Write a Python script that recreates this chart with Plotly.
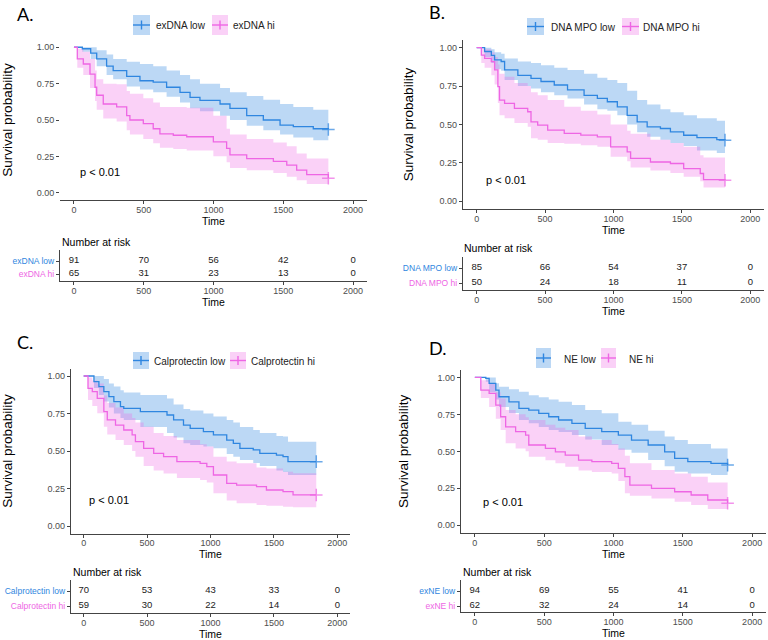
import plotly.graph_objects as go

W, H = 768, 640
SANS = "Liberation Sans, Arial, sans-serif"
BLUE, PINK = "#2F86E0", "#EE66E4"
BLUE_F, PINK_F = "rgba(46,134,224,0.32)", "rgba(238,102,228,0.30)"

# ---------------- data ----------------
time_ticks = [0, 500, 1000, 1500, 2000]
prob_ticks = [0, 0.25, 0.5, 0.75, 1.0]
prob_labels = ["0.00", "0.25", "0.50", "0.75", "1.00"]

# Panel A: exDNA
a_names = ["exDNA low", "exDNA hi"]
a_risk_labels = ["exDNA low", "exDNA hi"]
a_risk_low = [91, 70, 56, 42, 0]
a_risk_hi = [65, 31, 23, 13, 0]
a_low_t = [0, 60, 120, 163, 234, 281, 378, 473, 568, 664, 760, 832, 903, 1047, 1118, 1238, 1357, 1477, 1572, 1715, 1823]
a_low_s = [1.0, 0.99, 0.96, 0.92, 0.87, 0.84, 0.80, 0.77, 0.76, 0.725, 0.69, 0.655, 0.635, 0.61, 0.58, 0.53, 0.50, 0.465, 0.455, 0.44, 0.435]
a_low_hi = [1.0, 1.0, 1.0, 0.98, 0.95, 0.92, 0.90, 0.885, 0.87, 0.84, 0.81, 0.78, 0.75, 0.72, 0.69, 0.665, 0.64, 0.61, 0.59, 0.57, 0.555]
a_low_lo = [1.0, 0.97, 0.92, 0.87, 0.81, 0.78, 0.73, 0.71, 0.69, 0.66, 0.62, 0.58, 0.56, 0.53, 0.50, 0.46, 0.43, 0.40, 0.38, 0.36, 0.35]
a_hi_t = [0, 24, 67, 115, 151, 163, 210, 306, 378, 401, 497, 568, 616, 712, 808, 999, 1094, 1118, 1238, 1429, 1525, 1596, 1668, 1823]
a_hi_s = [1.0, 0.92, 0.885, 0.815, 0.725, 0.67, 0.61, 0.59, 0.53, 0.50, 0.475, 0.44, 0.405, 0.395, 0.385, 0.35, 0.305, 0.26, 0.235, 0.215, 0.19, 0.155, 0.125, 0.10]
a_hi_hi = [1.0, 0.99, 0.97, 0.92, 0.84, 0.78, 0.75, 0.745, 0.70, 0.68, 0.65, 0.62, 0.59, 0.59, 0.585, 0.53, 0.44, 0.40, 0.37, 0.345, 0.32, 0.27, 0.235, 0.21]
a_hi_lo = [1.0, 0.86, 0.81, 0.72, 0.63, 0.57, 0.51, 0.49, 0.43, 0.40, 0.37, 0.34, 0.31, 0.30, 0.29, 0.25, 0.21, 0.17, 0.155, 0.135, 0.11, 0.085, 0.06, 0.05]

# Panel B: DNA MPO
b_names = ["DNA MPO low", "DNA MPO hi"]
b_risk_labels = ["DNA MPO low", "DNA MPO hi"]
b_risk_low = [85, 66, 54, 37, 0]
b_risk_hi = [50, 24, 18, 11, 0]
b_low_t = [0, 58, 107, 131, 179, 204, 301, 397, 470, 567, 664, 785, 882, 955, 1028, 1100, 1173, 1246, 1343, 1416, 1513, 1610, 1755, 1815]
b_low_s = [1.0, 0.975, 0.95, 0.92, 0.91, 0.855, 0.82, 0.80, 0.78, 0.757, 0.725, 0.69, 0.67, 0.648, 0.615, 0.56, 0.517, 0.485, 0.474, 0.452, 0.43, 0.415, 0.402, 0.398]
b_low_hi = [1.0, 1.0, 0.99, 0.97, 0.96, 0.93, 0.91, 0.90, 0.885, 0.87, 0.855, 0.83, 0.805, 0.79, 0.77, 0.72, 0.66, 0.63, 0.60, 0.58, 0.56, 0.54, 0.525, 0.517]
b_low_lo = [1.0, 0.94, 0.90, 0.86, 0.85, 0.79, 0.75, 0.735, 0.71, 0.69, 0.67, 0.63, 0.60, 0.59, 0.56, 0.50, 0.45, 0.42, 0.40, 0.38, 0.36, 0.33, 0.315, 0.31]
b_hi_t = [0, 34, 58, 107, 131, 155, 167, 204, 276, 373, 397, 446, 519, 640, 761, 882, 979, 1100, 1125, 1270, 1416, 1513, 1634, 1658, 1815]
b_hi_s = [1.0, 0.952, 0.93, 0.909, 0.855, 0.746, 0.659, 0.637, 0.605, 0.583, 0.517, 0.496, 0.463, 0.442, 0.431, 0.42, 0.354, 0.322, 0.279, 0.256, 0.246, 0.213, 0.181, 0.141, 0.137]
b_hi_hi = [1.0, 1.0, 0.99, 0.97, 0.94, 0.89, 0.83, 0.81, 0.77, 0.75, 0.71, 0.69, 0.66, 0.615, 0.59, 0.565, 0.50, 0.46, 0.44, 0.40, 0.38, 0.355, 0.30, 0.285, 0.28]
b_hi_lo = [1.0, 0.90, 0.87, 0.82, 0.76, 0.64, 0.56, 0.54, 0.51, 0.485, 0.41, 0.40, 0.38, 0.375, 0.365, 0.355, 0.29, 0.26, 0.22, 0.20, 0.185, 0.16, 0.13, 0.09, 0.085]

# Panel C: Calprotectin
c_names = ["Calprotectin low", "Calprotectin hi"]
c_risk_labels = ["Calprotectin low", "Calprotectin hi"]
c_risk_low = [70, 53, 43, 33, 0]
c_risk_hi = [59, 30, 22, 14, 0]
c_low_t = [0, 50, 81, 120, 159, 199, 238, 290, 316, 447, 657, 709, 787, 840, 944, 1023, 1128, 1180, 1232, 1337, 1389, 1520, 1572, 1611, 1834]
c_low_s = [1.0, 1.0, 0.962, 0.929, 0.896, 0.862, 0.829, 0.796, 0.784, 0.762, 0.74, 0.707, 0.673, 0.651, 0.629, 0.607, 0.573, 0.551, 0.518, 0.507, 0.484, 0.473, 0.462, 0.429, 0.429]
c_low_hi = [1.0, 1.0, 1.0, 1.0, 0.98, 0.95, 0.93, 0.905, 0.89, 0.873, 0.85, 0.81, 0.78, 0.77, 0.75, 0.73, 0.707, 0.69, 0.66, 0.64, 0.62, 0.60, 0.596, 0.562, 0.562]
c_low_lo = [1.0, 1.0, 0.92, 0.873, 0.83, 0.79, 0.75, 0.72, 0.707, 0.66, 0.62, 0.59, 0.551, 0.54, 0.53, 0.518, 0.48, 0.462, 0.44, 0.42, 0.40, 0.37, 0.36, 0.34, 0.34]
c_hi_t = [0, 34, 68, 107, 159, 186, 251, 316, 382, 408, 473, 552, 630, 735, 918, 971, 1023, 1128, 1206, 1363, 1441, 1572, 1651, 1834]
c_hi_s = [1.0, 0.918, 0.896, 0.851, 0.762, 0.707, 0.673, 0.64, 0.607, 0.562, 0.518, 0.484, 0.462, 0.429, 0.418, 0.396, 0.34, 0.284, 0.273, 0.262, 0.24, 0.229, 0.207, 0.207]
c_hi_hi = [1.0, 0.99, 0.97, 0.95, 0.87, 0.82, 0.79, 0.75, 0.72, 0.69, 0.662, 0.62, 0.60, 0.573, 0.545, 0.53, 0.462, 0.43, 0.418, 0.39, 0.384, 0.362, 0.351, 0.351]
c_hi_lo = [1.0, 0.84, 0.80, 0.751, 0.662, 0.61, 0.573, 0.54, 0.50, 0.462, 0.40, 0.37, 0.35, 0.32, 0.307, 0.29, 0.218, 0.17, 0.151, 0.14, 0.135, 0.129, 0.125, 0.125]

# Panel D: NE
d_names = ["NE low", "NE hi"]
d_risk_labels = ["exNE low", "exNE hi"]
d_risk_low = [94, 69, 55, 41, 0]
d_risk_hi = [62, 32, 24, 14, 0]
d_low_t = [0, 79, 103, 151, 174, 246, 318, 389, 461, 533, 604, 700, 796, 915, 1035, 1130, 1250, 1369, 1441, 1536, 1703, 1823]
d_low_s = [1.0, 0.993, 0.959, 0.914, 0.869, 0.835, 0.79, 0.779, 0.757, 0.734, 0.712, 0.689, 0.655, 0.633, 0.61, 0.576, 0.543, 0.497, 0.452, 0.43, 0.419, 0.407]
d_low_hi = [1.0, 1.0, 1.0, 0.96, 0.937, 0.92, 0.903, 0.88, 0.865, 0.85, 0.835, 0.813, 0.78, 0.757, 0.70, 0.68, 0.64, 0.60, 0.576, 0.55, 0.52, 0.52]
d_low_lo = [1.0, 0.97, 0.90, 0.85, 0.80, 0.76, 0.712, 0.69, 0.665, 0.645, 0.63, 0.61, 0.58, 0.543, 0.51, 0.49, 0.441, 0.40, 0.362, 0.35, 0.34, 0.318]
d_hi_t = [0, 43, 103, 151, 186, 222, 294, 366, 389, 509, 581, 652, 748, 844, 987, 1035, 1082, 1118, 1274, 1441, 1560, 1680, 1823]
d_hi_s = [1.0, 0.914, 0.892, 0.813, 0.734, 0.666, 0.633, 0.61, 0.543, 0.52, 0.497, 0.475, 0.441, 0.43, 0.419, 0.385, 0.329, 0.272, 0.25, 0.227, 0.205, 0.171, 0.149]
d_hi_hi = [1.0, 0.98, 0.96, 0.90, 0.858, 0.779, 0.75, 0.73, 0.712, 0.68, 0.66, 0.644, 0.60, 0.576, 0.55, 0.52, 0.47, 0.419, 0.374, 0.35, 0.329, 0.29, 0.272]
d_hi_lo = [1.0, 0.86, 0.80, 0.72, 0.644, 0.554, 0.52, 0.50, 0.464, 0.44, 0.42, 0.396, 0.37, 0.36, 0.351, 0.30, 0.216, 0.20, 0.182, 0.16, 0.137, 0.11, 0.092]

p_text = "p < 0.01"

panels = [
    dict(letter="A.", names=a_names, rlab=a_risk_labels, risk=[a_risk_low, a_risk_hi],
         curves=[(a_low_t, a_low_s, a_low_lo, a_low_hi), (a_hi_t, a_hi_s, a_hi_lo, a_hi_hi)]),
    dict(letter="B.", names=b_names, rlab=b_risk_labels, risk=[b_risk_low, b_risk_hi],
         curves=[(b_low_t, b_low_s, b_low_lo, b_low_hi), (b_hi_t, b_hi_s, b_hi_lo, b_hi_hi)]),
    dict(letter="C.", names=c_names, rlab=c_risk_labels, risk=[c_risk_low, c_risk_hi],
         curves=[(c_low_t, c_low_s, c_low_lo, c_low_hi), (c_hi_t, c_hi_s, c_hi_lo, c_hi_hi)]),
    dict(letter="D.", names=d_names, rlab=d_risk_labels, risk=[d_risk_low, d_risk_hi],
         curves=[(d_low_t, d_low_s, d_low_lo, d_low_hi), (d_hi_t, d_hi_s, d_hi_lo, d_hi_hi)]),
]

# ---------------- layout geometry (pixels) ----------------
# keys: (box x0, box x1, text start x)
geo = [
    dict(km=(60, 367, 40, 200), tab=(60, 367, 250, 281), rows=(261, 274), yline=False,
         letter_xy=(15, 14), nar=(60, 242), pval=(30, 0.14), ystand=22, leg_y=25,
         keys=[(133, 150, 156), (212, 228, 233)], box_y=(15, 35)),
    dict(km=(463, 764, 40, 209), tab=(463, 764, 257, 290), rows=(268, 283), yline=True,
         letter_xy=(427, 12), nar=(462, 248), pval=(51, 0.137), ystand=22, leg_y=27,
         keys=[(527, 544, 551), (622, 639, 643)], box_y=(18, 35)),
    dict(km=(71, 350, 368.5, 533.5), tab=(71, 350, 580, 613), rows=(591, 606), yline=True,
         letter_xy=(15, 342), nar=(71, 572), pval=(24, 0.173), ystand=33, leg_y=361,
         keys=[(133, 149, 154), (230, 246, 251)], box_y=(352, 369)),
    dict(km=(461, 766, 370, 532.7), tab=(461, 766, 580, 612), rows=(591, 606), yline=True,
         letter_xy=(427, 348), nar=(461, 572), pval=(43, 0.16), ystand=25, leg_y=359,
         keys=[(536, 551, 564), (601, 616, 629)], box_y=(348, 368)),
]


def dx(a, b):
    return [a / W, b / W]


def dy(top, bot):
    return [1 - bot / H, 1 - top / H]


fig = go.Figure()
layout = dict(width=W, height=H, margin=dict(l=0, r=0, t=0, b=0),
              paper_bgcolor="white", plot_bgcolor="white", showlegend=True)
annotations, shapes = [], []
AXC = "#444444"
TICKF = dict(family=SANS, size=9, color="#4D4D4D")
colors = [BLUE, PINK]
fills = [BLUE_F, PINK_F]

for i, (p, g) in enumerate(zip(panels, geo)):
    kx, ky = 2 * i + 1, 2 * i + 2
    kxs = "" if kx == 1 else str(kx)
    kys = str(ky)
    for j, (t, s, lo, hi) in enumerate(p["curves"]):
        fig.add_trace(go.Scatter(x=t, y=lo, mode="lines", line=dict(width=0, shape="hv"),
                                 xaxis="x" + kxs, yaxis="y" + kxs, showlegend=False, hoverinfo="skip"))
        fig.add_trace(go.Scatter(x=t, y=hi, mode="lines", line=dict(width=0, shape="hv"),
                                 fill="tonexty", fillcolor=fills[j],
                                 xaxis="x" + kxs, yaxis="y" + kxs, showlegend=False, hoverinfo="skip"))
    by0, by1 = g["box_y"]
    ymid = (by0 + by1) / 2
    for j, (t, s, lo, hi) in enumerate(p["curves"]):
        leg_idx = 2 * i + j + 1
        leg = "legend" if leg_idx == 1 else "legend%d" % leg_idx
        sizes = [0] * (len(t) - 1) + [9]
        fig.add_trace(go.Scatter(x=t, y=s, mode="lines+markers", name=p["names"][j],
                                 line=dict(color=colors[j], width=1.3, shape="hv"),
                                 marker=dict(symbol="cross-thin", size=sizes, color=colors[j],
                                             line=dict(width=1.5, color=colors[j])),
                                 xaxis="x" + kxs, yaxis="y" + kxs, showlegend=False))
        # legend entry (text via native legend, key drawn with shapes)
        fig.add_trace(go.Scatter(x=[None], y=[None], mode="markers", name=p["names"][j],
                                 marker=dict(size=1, color="rgba(0,0,0,0)"),
                                 xaxis="x" + kxs, yaxis="y" + kxs, legend=leg, hoverinfo="skip"))
        bx0, bx1, tx = g["keys"][j]
        layout[leg] = dict(orientation="h", x=(tx - 40) / W, xanchor="left", y=1 - g["leg_y"] / H,
                           yanchor="middle", bgcolor="rgba(0,0,0,0)", borderwidth=0,
                           font=dict(family=SANS, size=10, color="#222222"),
                           itemsizing="trace", itemwidth=30, itemclick=False, itemdoubleclick=False)
        shapes.append(dict(type="rect", xref="paper", yref="paper", x0=bx0 / W, x1=bx1 / W,
                           y0=1 - by1 / H, y1=1 - by0 / H, fillcolor=fills[j], line=dict(width=0),
                           layer="below"))
        shapes.append(dict(type="line", xref="paper", yref="paper", x0=bx0 / W, x1=bx1 / W,
                           y0=1 - ymid / H, y1=1 - ymid / H, line=dict(color=colors[j], width=1.4)))
        cx = (bx0 + bx1) / 2
        shapes.append(dict(type="line", xref="paper", yref="paper", x0=cx / W, x1=cx / W,
                           y0=1 - (ymid + 4.5) / H, y1=1 - (ymid - 4.5) / H,
                           line=dict(color=colors[j], width=1.4)))
    # risk table
    for j, vals in enumerate(p["risk"]):
        fig.add_trace(go.Scatter(x=time_ticks, y=[1 - j] * len(vals), mode="text",
                                 text=[str(v) for v in vals],
                                 textfont=dict(family=SANS, size=9.5, color="#222222"),
                                 xaxis="x" + kys, yaxis="y" + kys, showlegend=False, hoverinfo="skip"))

    kmx0, kmx1, kmy0, kmy1 = g["km"]
    tx0, tx1, ty0, ty1 = g["tab"]
    r1, r0 = g["rows"]
    unit = r0 - r1
    trange = [-(ty1 - r0) / unit, 1 + (r1 - ty0) / unit]

    xcommon = dict(range=[-100, 2100], tickvals=time_ticks, ticktext=[str(v) for v in time_ticks],
                   ticks="outside", ticklen=3, tickcolor=AXC, showline=True, linecolor=AXC,
                   linewidth=1.2, showgrid=False, zeroline=False, tickfont=TICKF,
                   ticklabelstandoff=-2,
                   title=dict(text="Time", font=dict(family=SANS, size=10.5, color="black"), standoff=0))
    layout["xaxis" + kxs] = dict(xcommon, domain=dx(kmx0, kmx1), anchor="y" + kxs)
    layout["yaxis" + kxs] = dict(domain=dy(kmy0, kmy1), anchor="x" + kxs, range=[-0.05, 1.05],
                                 tickvals=prob_ticks, ticktext=prob_labels, ticks="outside", ticklen=3,
                                 tickcolor=AXC, showline=g["yline"], linecolor=AXC, linewidth=1.2,
                                 showgrid=False, zeroline=False, tickfont=TICKF,
                                 title=dict(text="Survival probability",
                                            font=dict(family=SANS, size=13.5, color="black"),
                                            standoff=g["ystand"]))
    layout["xaxis" + kys] = dict(xcommon, domain=dx(tx0, tx1), anchor="y" + kys)
    rl = p["rlab"]
    layout["yaxis" + kys] = dict(domain=dy(ty0, ty1), anchor="x" + kys, range=trange,
                                 tickvals=[1, 0],
                                 ticktext=['<span style="color:%s">%s</span>' % (BLUE, rl[0]),
                                           '<span style="color:%s">%s</span>' % (PINK, rl[1])],
                                 ticks="outside", ticklen=3, tickcolor=AXC, showline=True,
                                 linecolor=AXC, linewidth=1.2, showgrid=False, zeroline=False,
                                 tickfont=dict(family=SANS, size=8.5))
    # annotations
    lx, ly = g["letter_xy"]
    annotations.append(dict(text=p["letter"], x=lx / W, y=1 - ly / H, xref="paper", yref="paper",
                            xanchor="left", yanchor="middle", showarrow=False,
                            font=dict(family="Lato, Open Sans, sans-serif", size=18, color="black")))
    nx, ny = g["nar"]
    annotations.append(dict(text="Number at risk", x=nx / W, y=1 - ny / H, xref="paper", yref="paper",
                            xanchor="left", yanchor="middle", showarrow=False,
                            font=dict(family=SANS, size=10.5, color="black")))
    px_, py_ = g["pval"]
    annotations.append(dict(text=p_text, x=px_, y=py_, xref="x" + kxs, yref="y" + kxs,
                            xanchor="left", yanchor="middle", showarrow=False,
                            font=dict(family=SANS, size=11, color="black")))

layout["annotations"] = annotations
layout["shapes"] = shapes
fig.update_layout(**layout)
fig.write_html("out.html", config={"displayModeBar": False},
               post_script="document.body.style.margin='0';document.body.style.overflow='hidden';")
